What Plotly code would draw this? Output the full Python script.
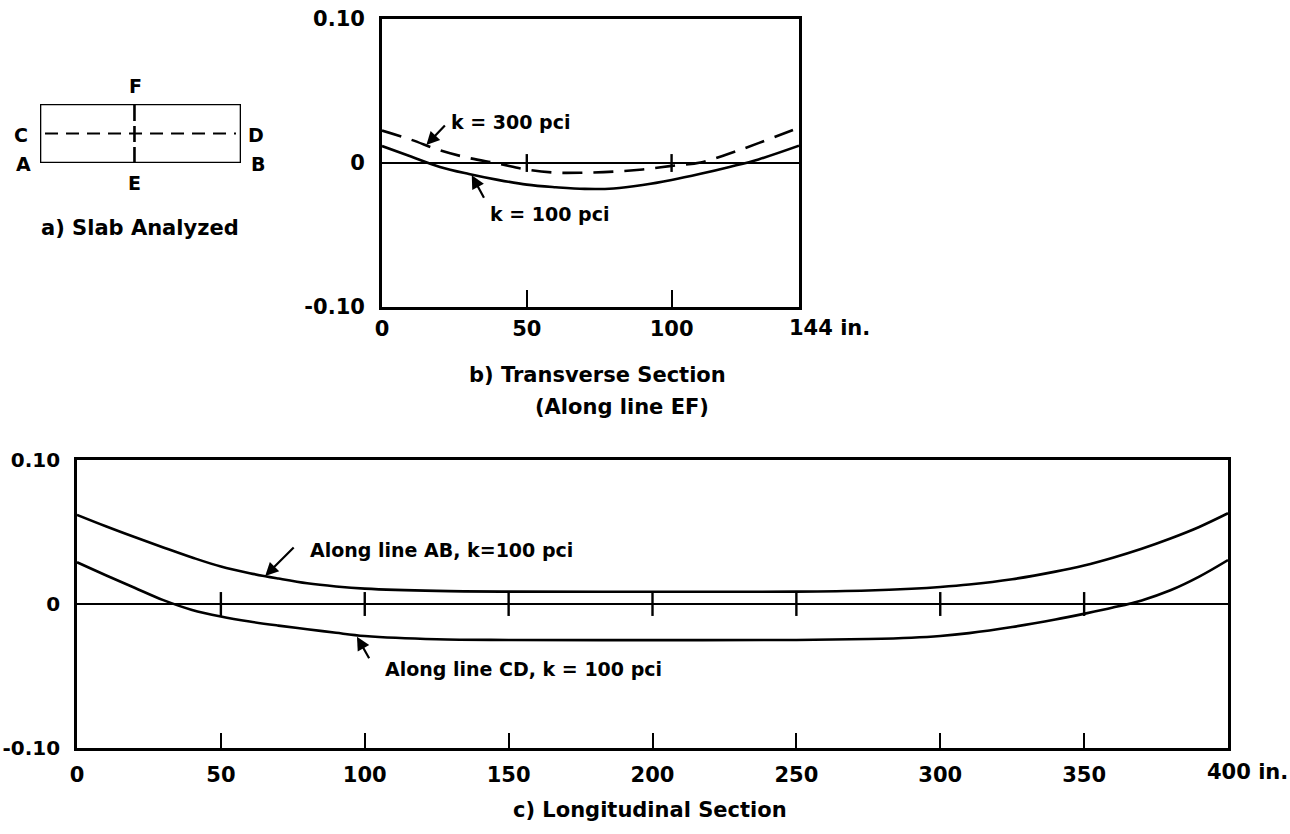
import plotly.graph_objects as go

# ---------------- data ----------------
# b) Transverse section (along line EF), x in inches, deflection values
trans_x = [0, 10, 20, 30, 40, 50, 60, 70, 80, 90, 100, 110, 120, 130, 144]
trans_k100 = [0.0118, 0.0045, -0.0027, -0.0076, -0.0117, -0.0150, -0.0168, -0.0180,
              -0.0177, -0.0153, -0.0118, -0.0075, -0.0027, 0.0025, 0.0120]
trans_k300 = [0.0225, 0.0162, 0.0088, 0.0035, -0.0003, -0.0046, -0.0067, -0.0067,
              -0.0060, -0.0045, -0.0020, 0.0004, 0.0066, 0.0138, 0.0246]

# c) Longitudinal section, x in inches
long_x = [0, 10, 20, 30, 40, 50, 60, 70, 80, 90, 100, 125, 150, 200, 250, 275, 290, 300,
          310, 325, 340, 350, 360, 370, 380, 390, 400]
long_ab = [0.0619, 0.0540, 0.0465, 0.0393, 0.0323, 0.0260, 0.0214, 0.0177, 0.0144, 0.0122, 0.0107,
           0.0091, 0.0086, 0.0085, 0.0086, 0.0094, 0.0106, 0.0118,
           0.0135, 0.0172, 0.0225, 0.0268, 0.0322, 0.0384, 0.0455, 0.0535, 0.0630]
long_cd = [0.0290, 0.0200, 0.0113, 0.0027, -0.0041, -0.0087, -0.0122, -0.0150, -0.0175, -0.0200, -0.0222,
           -0.0245, -0.0250, -0.0251, -0.0250, -0.0243, -0.0234, -0.0222,
           -0.0202, -0.0160, -0.0108, -0.0068, -0.0025, 0.0025, 0.0095, 0.0190, 0.0305]

y_ticks = [-0.10, 0.0, 0.10]
y_tick_text = ["-0.10", "0", "0.10"]
trans_ticks = [0, 50, 100]
trans_tick_text = ["0", "50", "100"]
trans_end = 144
long_ticks = [0, 50, 100, 150, 200, 250, 300, 350]
long_tick_text = ["0", "50", "100", "150", "200", "250", "300", "350"]
long_end = 400

# slab drawing (a): length x width in inches (drawing coords)
slab_len = 400
slab_wid = 144
ef_pos = 188

FONT = "DejaVu Sans"
fnt = dict(family=FONT, size=19, color="black", weight="bold")
tickfnt = dict(family=FONT, size=21, color="black", weight="bold")
ytickfnt2 = dict(family=FONT, size=20, color="black", weight="bold")
titlefnt = dict(family=FONT, size=21, color="black", weight="bold")

fig = go.Figure()

# transverse curves
fig.add_trace(go.Scatter(x=trans_x, y=trans_k100, mode="lines", line=dict(color="black", width=2.6, shape="spline"),
                         xaxis="x", yaxis="y", showlegend=False, hoverinfo="skip"))
fig.add_trace(go.Scatter(x=trans_x, y=trans_k300, mode="lines",
                         line=dict(color="black", width=2.6, dash="20px,11px", shape="spline"),
                         xaxis="x", yaxis="y", showlegend=False, hoverinfo="skip"))
# zero-line ticks (transverse)
zx, zy = [], []
for t in trans_ticks[1:]:
    zx += [t, t, None]
    zy += [-0.0062, 0.0062, None]
fig.add_trace(go.Scatter(x=zx, y=zy, mode="lines", line=dict(color="black", width=2.4),
                         xaxis="x", yaxis="y", showlegend=False, hoverinfo="skip"))

# longitudinal curves
fig.add_trace(go.Scatter(x=long_x, y=long_ab, mode="lines", line=dict(color="black", width=2.6, shape="spline"),
                         xaxis="x2", yaxis="y2", showlegend=False, hoverinfo="skip"))
fig.add_trace(go.Scatter(x=long_x, y=long_cd, mode="lines", line=dict(color="black", width=2.6, shape="spline"),
                         xaxis="x2", yaxis="y2", showlegend=False, hoverinfo="skip"))
zx, zy = [], []
for t in long_ticks[1:]:
    zx += [t, t, None]
    zy += [-0.0083, 0.0083, None]
fig.add_trace(go.Scatter(x=zx, y=zy, mode="lines", line=dict(color="black", width=2.4),
                         xaxis="x2", yaxis="y2", showlegend=False, hoverinfo="skip"))

# slab drawing traces
fig.add_trace(go.Scatter(x=[0, slab_len, slab_len, 0, 0], y=[0, 0, slab_wid, slab_wid, 0], mode="lines",
                         line=dict(color="black", width=2.6), xaxis="x3", yaxis="y3",
                         showlegend=False, hoverinfo="skip"))
fig.add_trace(go.Scatter(x=[slab_len * 0.025, slab_len * 0.975], y=[slab_wid / 2, slab_wid / 2], mode="lines",
                         line=dict(color="black", width=2.2, dash="13px,8px"), xaxis="x3", yaxis="y3",
                         showlegend=False, hoverinfo="skip"))
fig.add_trace(go.Scatter(x=[ef_pos, ef_pos], y=[0, slab_wid], mode="lines",
                         line=dict(color="black", width=2.6, dash="16px,5px"), xaxis="x3", yaxis="y3",
                         showlegend=False, hoverinfo="skip"))

W, H = 1290, 834
def px(x):
    return x / W
def py(y):
    return 1 - y / H

axis_common = dict(showgrid=False, showline=True, linecolor="black", linewidth=2.8, mirror=True,
                   tickfont=tickfnt, zeroline=False)

fig.update_layout(
    width=W, height=H, margin=dict(l=0, r=0, t=0, b=0, autoexpand=False),
    paper_bgcolor="white", plot_bgcolor="white",
    xaxis=dict(domain=[px(382), px(799)], range=[0, trans_end], anchor="y",
               tickvals=trans_ticks, ticktext=trans_tick_text, ticks="inside", ticklen=17, tickwidth=2.4,
               tickcolor="black", ticklabelstandoff=1, **axis_common),
    yaxis=dict(domain=[py(307), py(19)], range=[-0.1, 0.1], anchor="x",
               tickvals=y_ticks, ticktext=y_tick_text, ticks="", ticklabelstandoff=10,
               showgrid=False, showline=True, linecolor="black", linewidth=2.8, mirror=True,
               tickfont=tickfnt, zeroline=True, zerolinecolor="black", zerolinewidth=1.5),
    xaxis2=dict(domain=[px(77), px(1228)], range=[0, long_end], anchor="y2",
                tickvals=long_ticks, ticktext=long_tick_text, ticks="inside", ticklen=15, tickwidth=2.4,
                tickcolor="black", ticklabelstandoff=6, **axis_common),
    yaxis2=dict(domain=[py(748), py(460)], range=[-0.1, 0.1], anchor="x2",
                tickvals=y_ticks, ticktext=y_tick_text, ticks="", ticklabelstandoff=10,
                showgrid=False, showline=True, linecolor="black", linewidth=2.8, mirror=True,
                tickfont=ytickfnt2, zeroline=True, zerolinecolor="black", zerolinewidth=1.5),
    xaxis3=dict(domain=[px(40), px(241)], range=[0, slab_len], anchor="y3", visible=False),
    yaxis3=dict(domain=[py(163), py(104)], range=[0, slab_wid], anchor="x3", visible=False),
)

ann = []
# slab labels
def slab_lab(text, x, y, xs=0, ys=0):
    ann.append(dict(text=text, x=x, y=y, xref="x3", yref="y3", showarrow=False, font=fnt,
                    xanchor="center", yanchor="middle", xshift=xs, yshift=ys))
slab_lab("F", ef_pos, slab_wid, 1, 18)
slab_lab("E", ef_pos, 0, 0, -20)
slab_lab("C", 0, slab_wid / 2, -19, -1)
slab_lab("D", slab_len, slab_wid / 2, 15, -1)
slab_lab("A", 0, 0, -17, -1)
slab_lab("B", slab_len, 0, 17, -1)

def paper_text(text, x, y):
    ann.append(dict(text=text, x=px(x), y=py(y), xref="paper", yref="paper", xanchor="center",
                    yanchor="middle", showarrow=False, font=titlefnt))
paper_text("a) Slab Analyzed", 140, 228)
paper_text("b) Transverse Section", 597, 375)
paper_text("(Along line EF)", 622, 407)
paper_text("c) Longitudinal Section", 650, 810)

# axis end labels
ann.append(dict(text=f"{trans_end} in.", x=trans_end, y=py(328), xref="x", yref="paper", xanchor="left",
                yanchor="middle", xshift=-12, showarrow=False, font=tickfnt))
ann.append(dict(text=f"{long_end} in.", x=long_end, y=py(772), xref="x2", yref="paper", xanchor="left",
                yanchor="middle", xshift=-23, showarrow=False, font=tickfnt))

# curve labels with arrows
def label(text, x, y, xr, yr):
    ann.append(dict(text=text, x=x, y=y, xref=xr, yref=yr, showarrow=False, font=fnt,
                    xanchor="center", yanchor="middle"))
def arrow(x, y, xr, yr, ax, ay):
    ann.append(dict(text="", x=x, y=y, xref=xr, yref=yr, ax=ax, ay=ay, axref="pixel", ayref="pixel",
                    showarrow=True, arrowhead=2, arrowsize=1.2, arrowwidth=2.2, arrowcolor="black"))

label("k = 300 pci", 44.2, 0.0283, "x", "y")
arrow(15.3, 0.0125, "x", "y", 20, -21)
label("k = 100 pci", 57.7, -0.0352, "x", "y")
arrow(31, -0.0085, "x", "y", 13, 24)
label("Along line AB, k=100 pci", 126.5, 0.0375, "x2", "y2")
arrow(65.4, 0.0195, "x2", "y2", 30, -30)
label("Along line CD, k = 100 pci", 155, -0.0451, "x2", "y2")
arrow(97.3, -0.0228, "x2", "y2", 13, 23)

fig.update_layout(annotations=ann)
fig.write_html("out.html", config={"displayModeBar": False},
               post_script="document.body.style.margin='0';document.body.style.padding='0';")
